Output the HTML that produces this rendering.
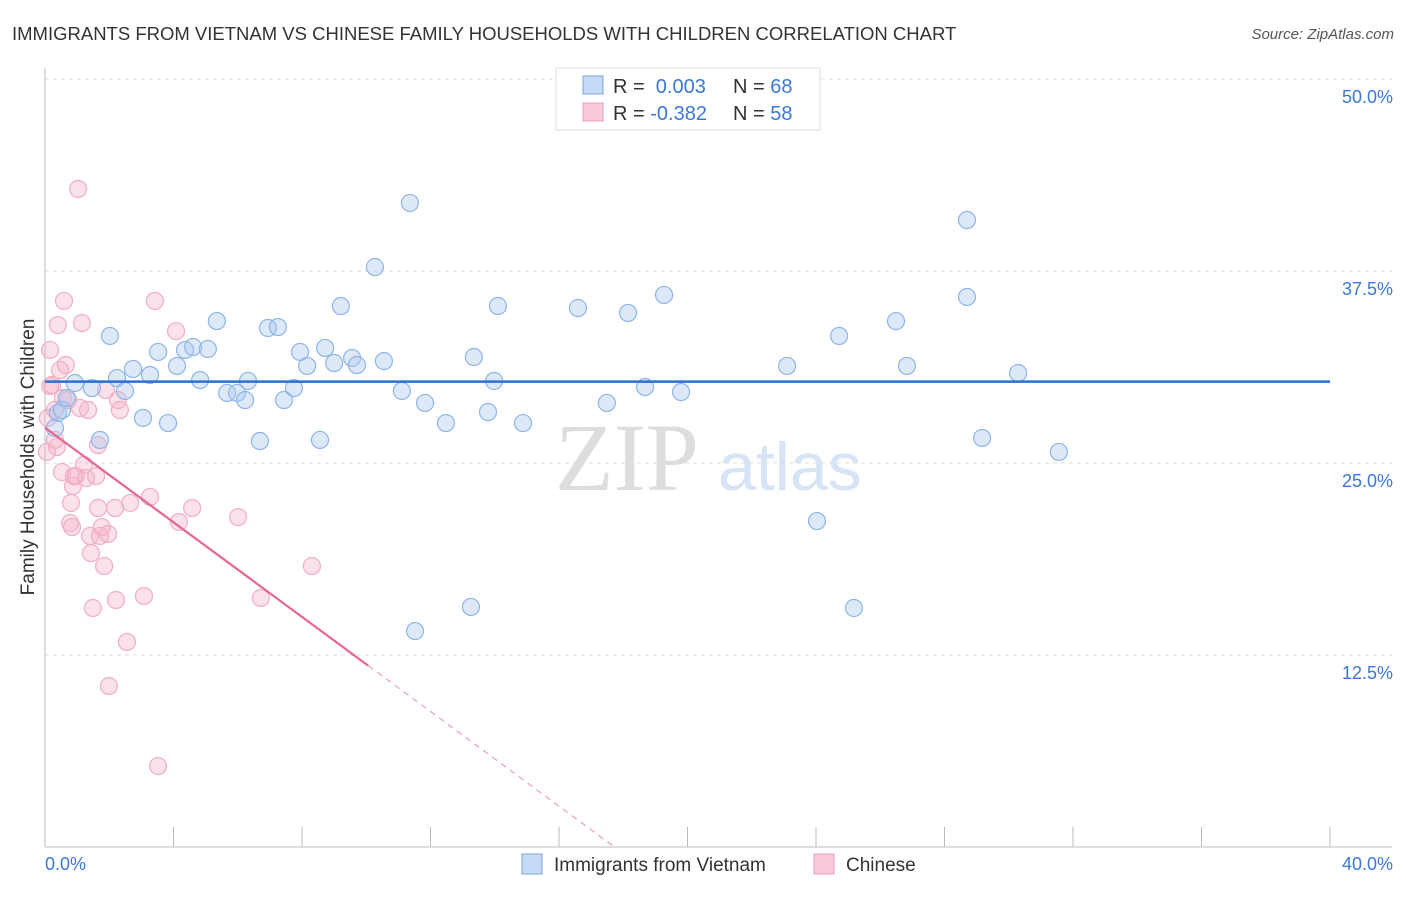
<!DOCTYPE html>
<html><head><meta charset="utf-8"><style>
body{margin:0;background:#fff;font-family:"Liberation Sans",sans-serif;}
</style></head><body>
<svg id="chart" width="1406" height="892" xmlns="http://www.w3.org/2000/svg">
<text x="12" y="40" font-size="18.5" fill="#333">IMMIGRANTS FROM VIETNAM VS CHINESE FAMILY HOUSEHOLDS WITH CHILDREN CORRELATION CHART</text>
<text x="1394" y="39" font-size="15" fill="#555" font-style="italic" text-anchor="end">Source: ZipAtlas.com</text>
<text x="555" y="490" font-size="96" fill="#ddd" font-family="Liberation Serif,serif">ZIP</text>
<text x="718" y="490" font-size="68" fill="#d6e4f5">atlas</text>
<g id="grid"></g>
<g id="axes"></g>
<g id="marks"></g>
<text transform="translate(34,457) rotate(-90)" font-size="19" fill="#333" text-anchor="middle">Family Households with Children</text>
<g>
<rect x="556" y="68" width="264" height="62" fill="#fff" stroke="#ddd"/>
<rect x="583" y="76" width="20" height="18" fill="#c5daf5" stroke="#7aa6de"/>
<text x="613" y="93" font-size="20" fill="#333">R = <tspan fill="#3b78d8">&#160;0.003</tspan><tspan x="733">N = </tspan><tspan fill="#3b78d8">68</tspan></text>
<rect x="583" y="103" width="20" height="18" fill="#f9cbd8" stroke="#eba0b8"/>
<text x="613" y="120" font-size="20" fill="#333">R = <tspan fill="#3b78d8">-0.382</tspan><tspan x="733">N = </tspan><tspan fill="#3b78d8">58</tspan></text>
</g>
<g>
<rect x="522" y="854" width="20" height="20" fill="#c5daf5" stroke="#7aa6de"/>
<text x="554" y="871" font-size="19" fill="#333">Immigrants from Vietnam</text>
<rect x="814" y="854" width="20" height="20" fill="#f9cbd8" stroke="#eba0b8"/>
<text x="846" y="871" font-size="19" fill="#333">Chinese</text>
</g>
</svg>
<script>
const yTicks=[12.5,25,37.5,50];
const yTickLabels=["12.5%","25.0%","37.5%","50.0%"];
const xTicks=[0,4,8,12,16,20,24,28,32,36,40];
const blueX=[0.31,0.40,0.53,0.68,0.93,1.46,1.71,2.02,2.24,2.49,2.74,3.05,3.27,3.52,3.83,4.11,4.36,4.61,4.83,5.07,5.35,5.67,5.98,6.23,6.32,6.69,6.94,7.25,7.44,7.75,7.94,8.16,8.56,8.72,9.00,9.21,9.56,9.71,10.27,10.55,11.11,11.36,11.52,11.83,12.48,13.26,13.35,13.79,13.98,14.10,14.88,16.59,17.49,18.15,18.68,19.27,19.80,23.10,24.03,24.72,25.18,26.49,26.83,28.70,28.70,29.17,30.29,31.56];
const blueY=[27.28,28.26,28.45,29.23,30.21,29.88,26.50,33.27,30.53,29.69,31.12,27.93,30.73,32.23,27.60,31.32,32.36,32.55,30.40,32.42,34.24,29.56,29.56,29.10,30.34,26.43,33.79,33.85,29.10,29.88,32.23,31.32,26.50,32.49,31.51,35.22,31.84,31.38,37.76,31.64,29.69,41.93,14.06,28.91,27.60,15.63,31.90,28.32,30.34,35.22,27.60,35.09,28.91,34.77,29.95,35.94,29.62,31.32,21.22,33.27,15.56,34.24,31.32,40.82,35.81,26.63,30.86,25.72];
const pinkX=[0.06,0.16,0.22,0.31,0.37,0.40,0.47,0.53,0.59,0.65,0.72,0.78,0.81,0.84,0.87,0.90,0.96,1.03,1.09,1.15,1.21,1.28,1.34,1.40,1.43,1.49,1.59,1.65,1.65,1.71,1.77,1.84,1.90,1.96,1.99,2.18,2.21,2.27,2.33,2.55,2.65,3.08,3.27,3.42,3.52,4.08,4.17,4.58,6.01,6.72,8.31,0.16,0.09,0.31,0.56];
const pinkY=[25.72,32.36,30.08,28.45,26.04,33.98,31.05,24.41,35.55,31.38,29.10,21.09,22.40,20.83,23.50,24.15,24.15,42.84,28.58,34.11,24.87,24.02,28.45,20.25,19.14,15.56,24.15,26.17,22.07,20.25,20.83,18.29,29.75,20.38,10.48,22.07,16.08,29.10,28.45,13.35,22.40,16.34,22.79,35.55,5.27,33.59,21.16,22.07,21.48,16.21,18.29,30.01,27.93,26.50,29.23];
const blueTrend=[30.3,30.3];
const pinkTrend=[27.3,-1.54];
const NS="http://www.w3.org/2000/svg";
const X=v=>45+v*32.125, Y=v=>847-v*15.36;
function mk(p,t,a){const e=document.createElementNS(NS,t);for(const k in a)e.setAttribute(k,a[k]);p.appendChild(e);return e;}
const grid=document.getElementById('grid'),axes=document.getElementById('axes'),marks=document.getElementById('marks');
yTicks.forEach((t,i)=>{
 const l=mk(grid,'line',{x1:45,x2:1392,y1:Y(t),y2:Y(t),stroke:'#ddd','stroke-dasharray':'4,4'});
 
 
 const tx=mk(axes,'text',{x:1393,y:Y(t)+24,'font-size':18,fill:'#3b78d8','text-anchor':'end'});tx.textContent=yTickLabels[i];
 
 
});
const topGrid=mk(grid,'line',{x1:45,x2:1392,y1:79,y2:79,stroke:'#ddd','stroke-dasharray':'4,4'});


const ya=mk(axes,'line',{x1:45,x2:45,y1:68,y2:847,stroke:'#bbb'});


const xa=mk(axes,'line',{x1:45,x2:1392,y1:847,y2:847,stroke:'#bbb'});


xTicks.forEach(t=>{const l=mk(axes,'line',{x1:X(t),x2:X(t),y1:827,y2:847,stroke:'#bbb'});
 
 });
const x0=mk(axes,'text',{x:45,y:870,'font-size':18,fill:'#3b78d8'});x0.textContent='0.0%';


const x1=mk(axes,'text',{x:1393,y:870,'font-size':18,fill:'#3b78d8','text-anchor':'end'});x1.textContent='40.0%';


pinkX.forEach((v,i)=>{const c=mk(marks,'circle',{cx:X(v),cy:Y(pinkY[i]),r:8.5,fill:'rgba(246,180,200,0.4)',stroke:'#f0aec4','stroke-width':1.2});
 
 });
blueX.forEach((v,i)=>{const c=mk(marks,'circle',{cx:X(v),cy:Y(blueY[i]),r:8.5,fill:'rgba(170,200,240,0.4)',stroke:'#8fb5e6','stroke-width':1.2});
 
 });
const bl=mk(marks,'line',{x1:X(0),x2:X(40),y1:Y(blueTrend[0]),y2:Y(blueTrend[1]),stroke:'#2a6fd4','stroke-width':2.5});


const pe=10.06, pEnd=-pinkTrend[0]/pinkTrend[1];
const pl=mk(marks,'line',{x1:X(0),x2:X(pe),y1:Y(pinkTrend[0]),y2:Y(pinkTrend[0]+pinkTrend[1]*pe),stroke:'#e5668f','stroke-width':2.2});


const pd=mk(marks,'line',{x1:X(pe),x2:X(pEnd),y1:Y(pinkTrend[0]+pinkTrend[1]*pe),y2:Y(0),stroke:'#e9a0b8','stroke-width':1.2,'stroke-dasharray':'6,5'});


</script>
</body></html>
